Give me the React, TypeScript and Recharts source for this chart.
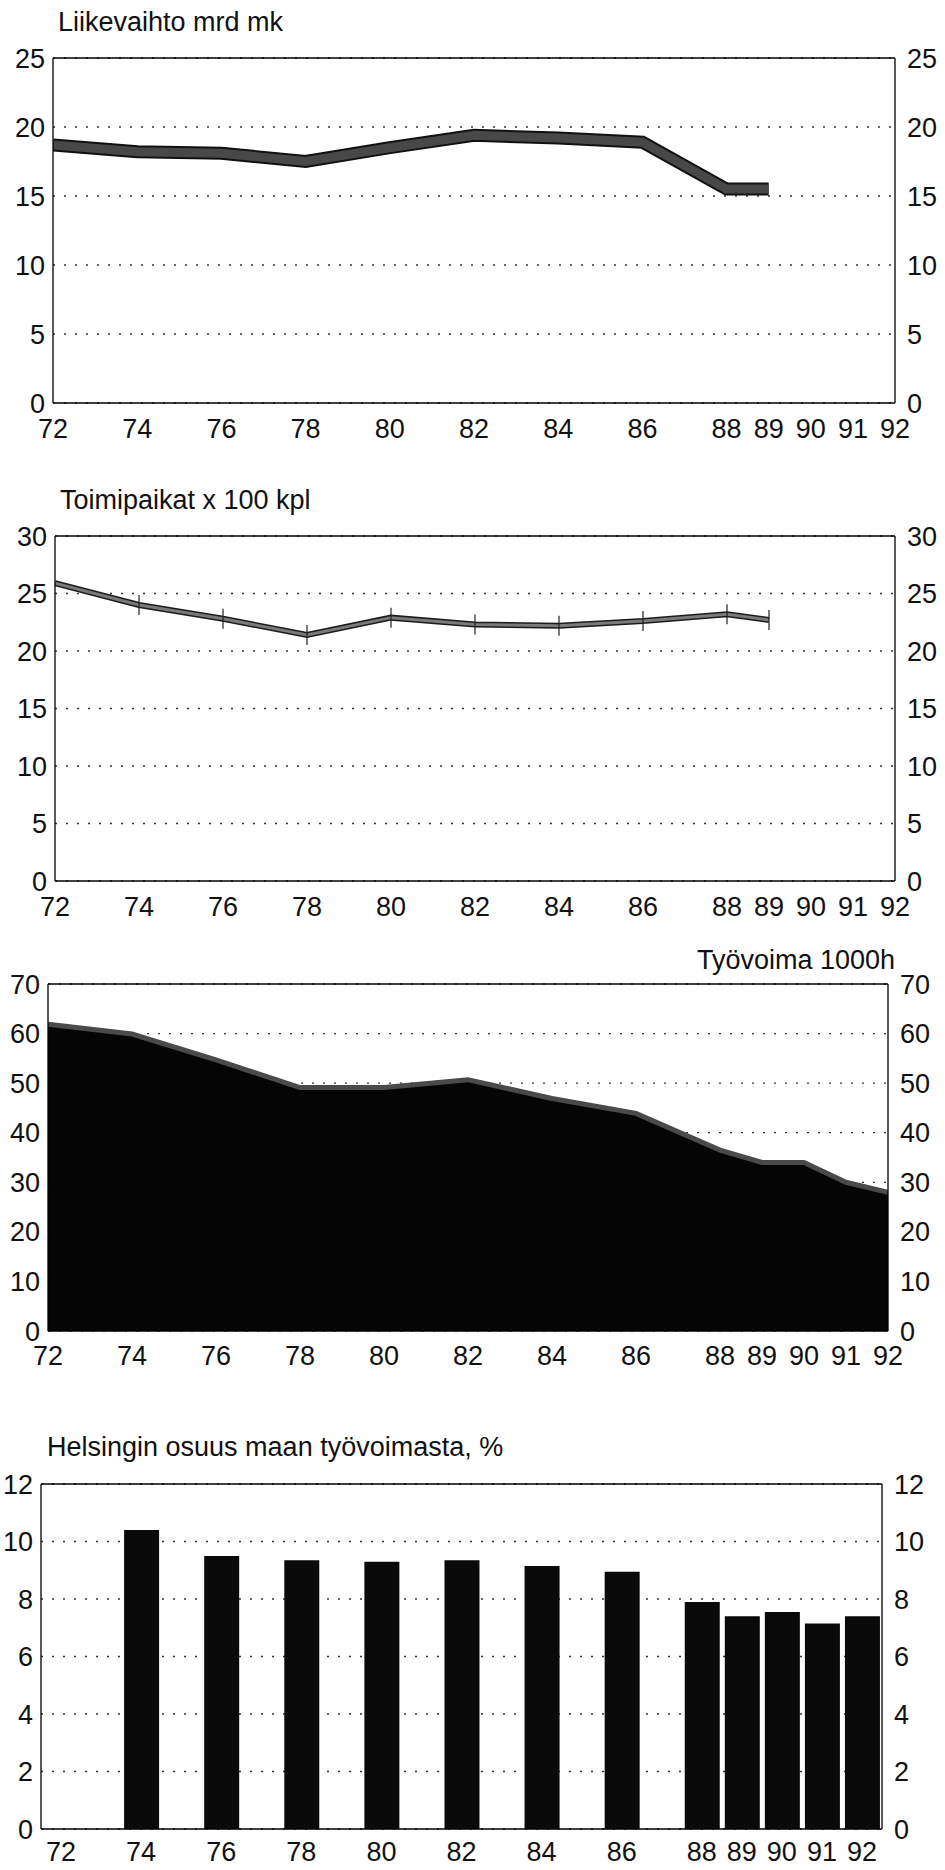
import React from "react";
import {
  Area,
  Bar,
  CartesianGrid,
  ComposedChart,
  Line,
  ReferenceLine,
  XAxis,
  YAxis,
} from "recharts";

const FONT = "'Liberation Sans', Arial, sans-serif";
const INK = "#111";

// x-axis ticks shared by all four panels
const yearTicks = [72, 74, 76, 78, 80, 82, 84, 86, 88, 89, 90, 91, 92];

// Liikevaihto mrd mk
const turnoverYears = [72, 74, 76, 78, 80, 82, 84, 86, 88, 89];
const turnover = [18.7, 18.2, 18.1, 17.5, 18.5, 19.4, 19.2, 18.9, 15.5, 15.5];

// Toimipaikat x 100 kpl
const officeYears = [72, 74, 76, 78, 80, 82, 84, 86, 88, 89];
const offices = [25.9, 24.0, 22.8, 21.4, 22.9, 22.3, 22.2, 22.6, 23.2, 22.7];

// Työvoima 1000h
const labourYears = [72, 74, 76, 78, 80, 82, 84, 86, 88, 89, 90, 91, 92];
const labour = [61.9, 59.9, 54.7, 49.1, 49.1, 50.7, 46.9, 43.9, 36.5, 34, 34, 30, 28];

// Helsingin osuus maan työvoimasta, %
const shareYears = [74, 76, 78, 80, 82, 84, 86, 88, 89, 90, 91, 92];
const share = [10.4, 9.5, 9.35, 9.3, 9.35, 9.15, 8.95, 7.9, 7.4, 7.55, 7.15, 7.4];

const ticks25 = [0, 5, 10, 15, 20, 25];
const ticks30 = [0, 5, 10, 15, 20, 25, 30];
const ticks70 = [0, 10, 20, 30, 40, 50, 60, 70];
const ticks12 = [0, 2, 4, 6, 8, 10, 12];

const zip = (xs: number[], ys: number[]) => xs.map((year, i) => ({ year, v: ys[i] }));

const tickStyle = { fontSize: 27, fill: INK, fontFamily: FONT };
const border = { stroke: "#000", strokeWidth: 1.3 };
const dotted = { stroke: "#333", strokeWidth: 1.3, strokeDasharray: "2 9" };

function Title({ text, top, left, right }: { text: string; top: number; left?: number; right?: number }) {
  return (
    <div
      style={{
        position: "absolute",
        top: top - 17,
        left,
        right: right !== undefined ? 945 - right : undefined,
        fontFamily: FONT,
        fontSize: 27,
        lineHeight: "34px",
        color: INK,
        whiteSpace: "nowrap",
      }}
    >
      {text}
    </div>
  );
}

// axes + a top reference line draw the box around each plot; an invisible
// copy of the series is bound to the right axis so it gets its ticks
function Frame({ domain, yDomain, yTicks, xHeight, xMargin, leftW, rightW }: any) {
  return [
    <XAxis
      key="xb"
      dataKey="year"
      type="number"
      domain={domain}
      ticks={yearTicks}
      interval={0}
      allowDataOverflow
      height={xHeight}
      tickLine={false}
      tickMargin={xMargin}
      axisLine={border}
      tick={tickStyle}
    />,
    <YAxis
      key="yl"
      type="number"
      domain={yDomain}
      ticks={yTicks}
      interval={0}
      allowDataOverflow
      width={leftW}
      tickLine={false}
      tickMargin={2}
      axisLine={border}
      tick={tickStyle}
    />,
    <YAxis
      key="yr"
      yAxisId="r"
      orientation="right"
      type="number"
      domain={yDomain}
      ticks={yTicks}
      interval={0}
      allowDataOverflow
      width={rightW}
      tickLine={false}
      tickMargin={6}
      axisLine={border}
      tick={tickStyle}
    />,
    <Line
      key="ghost"
      dataKey="v"
      yAxisId="r"
      stroke="none"
      dot={false}
      activeDot={false}
      isAnimationActive={false}
    />,
    <ReferenceLine key="top" y={yDomain[1]} stroke="#000" strokeWidth={1.3} />,
  ];
}

function officeDot(props: any) {
  const { cx, cy, index } = props;
  if (index === 0) return <g key={`d${index}`} />;
  return (
    <line key={`d${index}`} x1={cx} x2={cx} y1={cy - 10} y2={cy + 10} stroke="#222" strokeWidth={1.2} />
  );
}

export default function App() {
  return (
    <div style={{ position: "absolute", left: 0, top: 0, width: 945, height: 1870, background: "#fff", fontFamily: FONT }}>
      <Title text="Liikevaihto mrd mk" top={22} left={58} />
      <div style={{ position: "absolute", top: 0, left: 0 }}>
        <ComposedChart width={945} height={460} data={zip(turnoverYears, turnover)} margin={{ top: 58, right: 0, bottom: 0, left: 0 }}>
          <CartesianGrid vertical={false} {...dotted} />
          {Frame({ domain: [72, 92], yDomain: [0, 25], yTicks: ticks25, xHeight: 57, xMargin: 10, leftW: 53, rightW: 50 })}
          <Line dataKey="v" type="linear" stroke="#111" strokeWidth={13} dot={false} isAnimationActive={false} />
          <Line dataKey="v" type="linear" stroke="#484848" strokeWidth={9} dot={false} isAnimationActive={false} />
        </ComposedChart>
      </div>

      <Title text="Toimipaikat x 100 kpl" top={500} left={60} />
      <div style={{ position: "absolute", top: 470, left: 0 }}>
        <ComposedChart width={945} height={460} data={zip(officeYears, offices)} margin={{ top: 66, right: 0, bottom: 0, left: 0 }}>
          <CartesianGrid vertical={false} {...dotted} />
          {Frame({ domain: [72, 92], yDomain: [0, 30], yTicks: ticks30, xHeight: 49, xMargin: 10, leftW: 55, rightW: 50 })}
          <Line dataKey="v" type="linear" stroke="#1c1c1c" strokeWidth={6} dot={officeDot} isAnimationActive={false} />
          <Line dataKey="v" type="linear" stroke="#7a7a7a" strokeWidth={3} dot={false} isAnimationActive={false} />
        </ComposedChart>
      </div>

      <Title text="Työvoima 1000h" top={960} right={895} />
      <div style={{ position: "absolute", top: 930, left: 0 }}>
        <ComposedChart width={945} height={470} data={zip(labourYears, labour)} margin={{ top: 54, right: 0, bottom: 0, left: 0 }}>
          <CartesianGrid vertical={false} {...dotted} />
          {Frame({ domain: [72, 92], yDomain: [0, 70], yTicks: ticks70, xHeight: 69, xMargin: 9, leftW: 48, rightW: 57 })}
          <Area dataKey="v" type="linear" stroke="#4a4a4a" strokeWidth={5} fill="#050505" fillOpacity={1} isAnimationActive={false} />
        </ComposedChart>
      </div>

      <Title text="Helsingin osuus maan työvoimasta, %" top={1447} left={47} />
      <div style={{ position: "absolute", top: 1420, left: 0 }}>
        <ComposedChart width={945} height={450} data={zip(shareYears, share)} margin={{ top: 64, right: 0, bottom: 0, left: 0 }}>
          <CartesianGrid vertical={false} {...dotted} />
          {Frame({ domain: [71.5, 92.5], yDomain: [0, 12], yTicks: ticks12, xHeight: 41, xMargin: 7, leftW: 41, rightW: 63 })}
          <Bar dataKey="v" fill="#0a0a0a" barSize={35} isAnimationActive={false} />
        </ComposedChart>
      </div>
    </div>
  );
}
